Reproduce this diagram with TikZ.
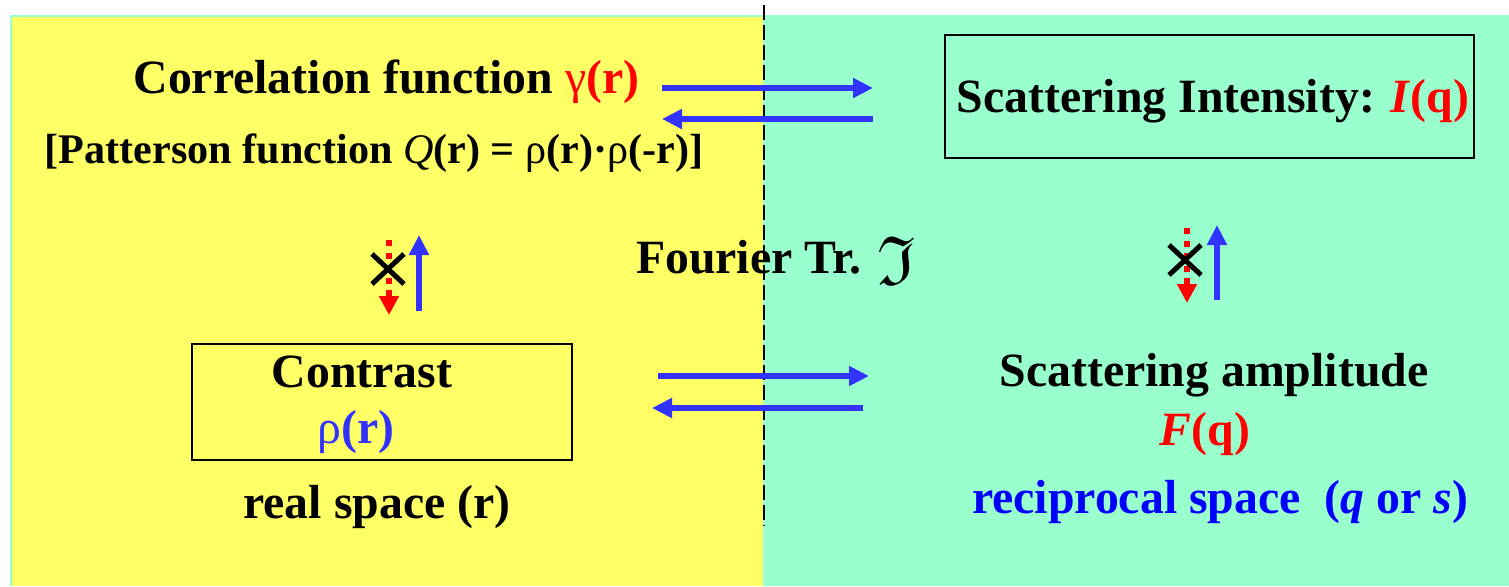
\documentclass[tikz,border=0pt]{standalone}
\usepackage{amssymb}
\usepackage{fontspec}
\setmainfont{Liberation Serif}
\usetikzlibrary{arrows.meta,positioning}
\definecolor{ftyellow}{HTML}{FFFF66}
\definecolor{ftgreen}{HTML}{99FFCC}
\definecolor{ftblue}{HTML}{3333FF}
\definecolor{ftdeep}{HTML}{0000FF}
\definecolor{ftred}{HTML}{FF0000}
\tikzset{
  font=\bfseries\fontsize{27.2}{32.6}\selectfont,
  lbl/.style={anchor=base,inner sep=0pt,align=center},
  small/.style={font=\bfseries\fontsize{24}{28}\selectfont},
  box/.style={draw=black,line width=0.05cm,inner sep=0pt},
  flow/.style={-{Triangle[length=0.4cm,width=0.38cm]},line width=0.11cm,draw=ftblue},
  noflow/.style={-{Triangle[length=0.38cm,width=0.38cm]},line width=0.13cm,draw=ftred,
                 dash pattern=on 0.12cm off 0.13cm},
  cross/.style={line width=0.1cm,draw=black},
  divider/.style={line width=0.05cm,draw=black,dash pattern=on 0.3cm off 0.1cm},
}
\begin{document}
\begin{tikzpicture}[x=0.02cm,y=-0.02cm]
  \useasboundingbox (0,0) rectangle (1509,586);
  % real space | reciprocal space
  \fill[ftgreen] (10,15) rectangle (1509,586);
  \fill[ftyellow] (12,17) rectangle (763,586);
  \draw[divider] (764,5) -- (764,525);

  \node[lbl] (corr) at (386.5,93)
    {Correlation function \textcolor{ftred}{{\mdseries γ}(r)}};
  \node[lbl,small] (patt) at (374,163)
    {[Patterson function {\mdseries\itshape Q}(r) = {\mdseries ρ}(r)·{\mdseries ρ}(-r)]};
  \node[box,minimum width=10.58cm,minimum height=2.46cm] (intensbox) at (1209.5,96.5) {};
  \node[lbl] (intens) at (1213,112)
    {Scattering Intensity: \textcolor{ftred}{\textit{I}(q)}};

  \node[lbl] (fourier) at (776,273)
    {Fourier Tr. \raisebox{-0.22cm}{\scalebox{1.45}{$\mathfrak{I}$}}};

  \node[box,minimum width=7.6cm,minimum height=2.32cm] (contrastbox) at (382,402) {};
  \node[lbl] (contrast) at (362,387) {Contrast};
  \node[lbl,text=ftblue] (rho) at (356,443) {{\mdseries ρ}(r)};
  \node[lbl] (realsp) at (377,518) {real space (r)};

  \node[lbl] (ampl) at (1214,386) {Scattering amplitude};
  \node[lbl,text=ftred] (famp) at (1205,445) {\textit{F}(q)};
  \node[lbl,text=ftdeep] (recsp) at (1220,513)
    {reciprocal space\ \ (\textit{q} or \textit{s})};

  % Fourier pairs
  \coordinate (ta) at (662,88);  \coordinate (tb) at (873,88);
  \coordinate (tc) at (873,119); \coordinate (td) at (662,119);
  \coordinate (ba) at (658,376); \coordinate (bb) at (869,376);
  \coordinate (bc) at (863,408); \coordinate (bd) at (652,408);
  \draw[flow] (ta) -- (tb);
  \draw[flow] (tc) -- (td);
  \draw[flow] (ba) -- (bb);
  \draw[flow] (bc) -- (bd);

  % one-way steps
  \coordinate (la) at (389,240);  \coordinate (lb) at (389,315);
  \coordinate (lc) at (419,311);  \coordinate (ld) at (419,235);
  \coordinate (ra) at (1187,228); \coordinate (rb) at (1187,303);
  \coordinate (rc) at (1217,300); \coordinate (rd) at (1217,225);
  \draw[noflow] (la) -- (lb);
  \draw[flow] (lc) -- (ld);
  \draw[noflow] (ra) -- (rb);
  \draw[flow] (rc) -- (rd);

  \coordinate (lx) at (388,269);
  \coordinate (rx) at (1185,260);
  \foreach \c in {lx,rx}{
    \draw[cross] ([shift={(-16,-15)}]\c) -- ([shift={(16,15)}]\c);
    \draw[cross] ([shift={(-16,15)}]\c) -- ([shift={(16,-15)}]\c);
  }
\end{tikzpicture}
\end{document}
